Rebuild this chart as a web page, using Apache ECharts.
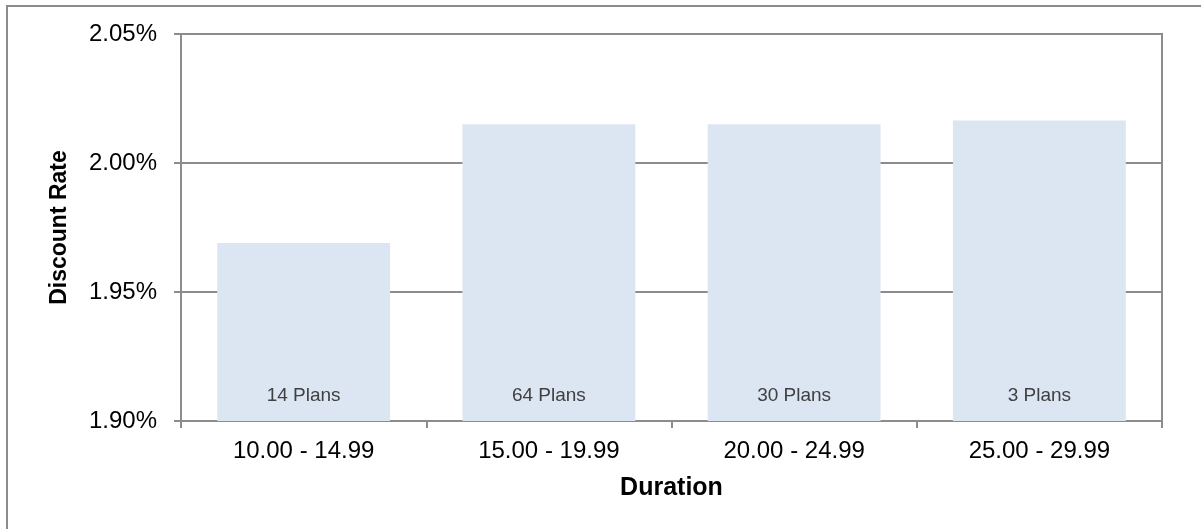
<!DOCTYPE html>
<html>
<head>
<meta charset="utf-8">
<script src="https://cdn.jsdelivr.net/npm/echarts@6/dist/echarts.min.js"></script>
<style>
  html, body { margin: 0; padding: 0; background: #fff; }
  #chart { width: 1201px; height: 529px; }
</style>
</head>
<body>
<div id="chart"></div>
<script>
// Duration buckets (years)
const durations = ['10.00 - 14.99', '15.00 - 19.99', '20.00 - 24.99', '25.00 - 29.99'];
// Average discount rate per bucket (%)
const discountRates = [1.969, 2.015, 2.015, 2.0165];
// Number of plans in each bucket
const planCounts = [14, 64, 30, 3];
// Value axis range (%)
const yMin = 1.90;
const yMax = 2.05;
const yStep = 0.05;

const FONT = '"Liberation Sans", Arial, sans-serif';
const GRAY = '#8c8c8c';

const chart = echarts.init(document.getElementById('chart'), null, { renderer: 'canvas' });

chart.setOption({
  backgroundColor: '#ffffff',
  animation: false,
  textStyle: { fontFamily: FONT },
  graphic: [{
    type: 'rect',
    shape: { x: 7, y: 6, width: 1400, height: 700 },
    style: { fill: 'none', stroke: GRAY, lineWidth: 2 },
    silent: true
  }],
  grid: {
    left: 181, right: 39, top: 34, bottom: 108,
    show: true, borderColor: GRAY, borderWidth: 2, backgroundColor: 'transparent'
  },
  xAxis: {
    type: 'category',
    data: durations,
    name: 'Duration',
    nameLocation: 'middle',
    nameGap: 55,
    nameTextStyle: { fontFamily: FONT, fontSize: 25, fontWeight: 'bold', color: '#000' },
    axisLine: { lineStyle: { color: GRAY, width: 2 } },
    axisTick: { show: true, length: 7, alignWithLabel: false, lineStyle: { color: GRAY, width: 2 } },
    axisLabel: { fontFamily: FONT, fontSize: 24, color: '#000', margin: 18 }
  },
  yAxis: {
    type: 'value',
    min: yMin, max: yMax, interval: yStep,
    name: 'Discount Rate',
    nameLocation: 'middle',
    nameRotate: 90,
    nameGap: 110,
    nameTextStyle: { fontFamily: FONT, fontSize: 23, fontWeight: 'bold', color: '#000' },
    axisLine: { show: true, lineStyle: { color: GRAY, width: 2 } },
    axisTick: { show: true, length: 7, lineStyle: { color: GRAY, width: 2 } },
    splitLine: { show: true, lineStyle: { color: GRAY, width: 2 } },
    axisLabel: {
      fontFamily: FONT, fontSize: 24, color: '#000', margin: 24,
      formatter: v => v.toFixed(2) + '%'
    }
  },
  series: [{
    type: 'bar',
    data: discountRates,
    barCategoryGap: '29.5%',
    itemStyle: { color: '#dce6f2' },
    label: {
      show: true,
      position: 'insideBottom',
      distance: 16,
      fontFamily: FONT,
      fontSize: 19,
      color: '#404040',
      formatter: p => planCounts[p.dataIndex] + ' Plans'
    }
  }]
});
</script>
</body>
</html>
